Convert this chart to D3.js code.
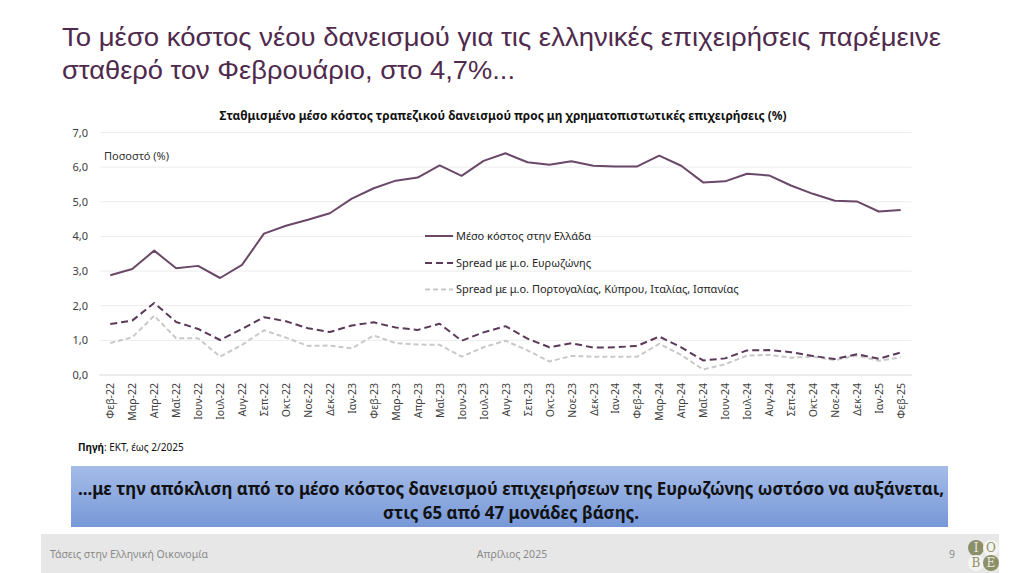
<!DOCTYPE html>
<html>
<head>
<meta charset="utf-8">
<script src="https://cdn.jsdelivr.net/npm/d3@7/dist/d3.min.js"></script>
<style>
  body { margin: 0; background: #fff; }
  svg { display: block; font-family: "Noto Sans", "Open Sans", sans-serif; }
</style>
</head>
<body>
<div id="vis"></div>
<script>
// months Feb-22 .. Feb-25
const months = ["Φεβ-22","Μαρ-22","Απρ-22","Μαΐ-22","Ιουν-22","Ιουλ-22","Αυγ-22","Σεπ-22","Οκτ-22","Νοε-22","Δεκ-22",
  "Ιαν-23","Φεβ-23","Μαρ-23","Απρ-23","Μαΐ-23","Ιουν-23","Ιουλ-23","Αυγ-23","Σεπ-23","Οκτ-23","Νοε-23","Δεκ-23",
  "Ιαν-24","Φεβ-24","Μαρ-24","Απρ-24","Μαΐ-24","Ιουν-24","Ιουλ-24","Αυγ-24","Σεπ-24","Οκτ-24","Νοε-24","Δεκ-24",
  "Ιαν-25","Φεβ-25"];

const costGreece = [2.88,3.06,3.59,3.08,3.15,2.80,3.18,4.08,4.31,4.48,4.67,
  5.09,5.39,5.61,5.70,6.05,5.75,6.18,6.40,6.14,6.07,6.17,6.04,
  6.02,6.02,6.33,6.04,5.56,5.59,5.81,5.76,5.47,5.23,5.03,5.01,
  4.72,4.76];

const spreadEA = [1.47,1.57,2.08,1.53,1.33,1.01,1.33,1.67,1.55,1.35,1.24,
  1.43,1.52,1.37,1.30,1.48,0.99,1.23,1.41,1.05,0.80,0.92,0.79,
  0.80,0.84,1.11,0.80,0.42,0.48,0.71,0.72,0.66,0.55,0.46,0.60,
  0.47,0.65];

const spreadSouth = [0.92,1.09,1.71,1.06,1.06,0.53,0.87,1.29,1.08,0.84,0.85,
  0.77,1.14,0.92,0.88,0.87,0.53,0.80,0.99,0.71,0.39,0.55,0.53,
  0.53,0.53,0.90,0.58,0.16,0.31,0.56,0.58,0.50,0.53,0.43,0.56,
  0.41,0.51];

const yTicks = [0,1,2,3,4,5,6,7];

const series = [
  {name: "Μέσο κόστος στην Ελλάδα", values: costGreece, color: "#6a4868", dash: null, width: 2},
  {name: "Spread με μ.ο. Ευρωζώνης", values: spreadEA, color: "#5b3a59", dash: "7,4", width: 2},
  {name: "Spread με μ.ο. Πορτογαλίας, Κύπρου, Ιταλίας, Ισπανίας", values: spreadSouth, color: "#c9c9c9", dash: "5,3", width: 2}
];

const W = 1024, H = 573;
const svg = d3.select("#vis").append("svg").attr("width", W).attr("height", H);

const defs = svg.append("defs");
const grad = defs.append("linearGradient").attr("id", "boxgrad")
  .attr("x1", 0).attr("y1", 0).attr("x2", 0).attr("y2", 1);
grad.append("stop").attr("offset", "0%").attr("stop-color", "#a5bce9");
grad.append("stop").attr("offset", "100%").attr("stop-color", "#7798d7");

// main title
const titleCol = "#4f2a4d";
svg.append("text").attr("x", 62).attr("y", 46)
  .attr("font-family", "Liberation Sans, Arial, sans-serif")
  .attr("font-size", 26).attr("fill", titleCol)
  .attr("textLength", 879).attr("lengthAdjust", "spacingAndGlyphs")
  .text("Το μέσο κόστος νέου δανεισμού για τις ελληνικές επιχειρήσεις παρέμεινε");
svg.append("text").attr("x", 62).attr("y", 79)
  .attr("font-family", "Liberation Sans, Arial, sans-serif")
  .attr("font-size", 26).attr("fill", titleCol)
  .attr("textLength", 453).attr("lengthAdjust", "spacingAndGlyphs")
  .text("σταθερό τον Φεβρουάριο, στο 4,7%...");

// chart title
svg.append("text").attr("x", 503).attr("y", 120)
  .attr("text-anchor", "middle").attr("font-size", 11.5).attr("font-weight", "bold").attr("fill", "#111")
  .attr("textLength", 567).attr("lengthAdjust", "spacingAndGlyphs")
  .text("Σταθμισμένο μέσο κόστος τραπεζικού δανεισμού προς μη χρηματοπιστωτικές επιχειρήσεις (%)");

const x = d3.scalePoint().domain(months).range([99.3, 911.7]).padding(0.5);
const y = d3.scaleLinear().domain([0, 7]).range([375, 132.5]);

// gridlines
svg.append("g").selectAll("line").data(yTicks).join("line")
  .attr("x1", 99.3).attr("x2", 911.7)
  .attr("y1", d => y(d)).attr("y2", d => y(d))
  .attr("stroke", d => d === 0 ? "#d9d9d9" : "#ececec").attr("stroke-width", 1);

// y axis
const yAxis = svg.append("g").attr("transform", "translate(90,0)")
  .call(d3.axisLeft(y).tickValues(yTicks).tickSize(0).tickPadding(2)
    .tickFormat(d => d3.format(".1f")(d).replace(".", ",")));
yAxis.select(".domain").remove();
yAxis.selectAll("text").attr("font-size", 11).attr("fill", "#404040")
  .attr("font-family", "Noto Sans, sans-serif");

svg.append("text").attr("x", 104).attr("y", 160)
  .attr("font-size", 11).attr("fill", "#333").text("Ποσοστό (%)");

// x axis
const xAxis = svg.append("g").attr("transform", "translate(0,375)")
  .call(d3.axisBottom(x).tickSize(0).tickPadding(0));
xAxis.select(".domain").remove();
xAxis.selectAll("text")
  .attr("font-size", 10.5).attr("fill", "#404040")
  .attr("font-family", "Noto Sans, sans-serif")
  .attr("text-anchor", "end")
  .attr("transform", "rotate(-90)")
  .attr("x", -8).attr("y", 0).attr("dy", "0.35em");

// lines
const line = d3.line().x((d, i) => x(months[i])).y(d => y(d));
series.slice().reverse().forEach(s => {
  svg.append("path").datum(s.values)
    .attr("d", line).attr("fill", "none")
    .attr("stroke", s.color).attr("stroke-width", s.width)
    .attr("stroke-dasharray", s.dash)
    .attr("stroke-linejoin", "round");
});

// legend
const legY = [236, 263, 289.5];
const leg = svg.append("g").selectAll("g").data(series).join("g")
  .attr("transform", (d, i) => `translate(425,${legY[i]})`);
leg.append("line").attr("x1", 0).attr("x2", 28).attr("y1", 0).attr("y2", 0)
  .attr("stroke", d => d.color).attr("stroke-width", 2)
  .attr("stroke-dasharray", d => d.dash);
leg.append("text").attr("x", 31).attr("y", 0).attr("dy", "0.35em")
  .attr("font-size", 11).attr("fill", "#262626").text(d => d.name);

// source
const src = svg.append("text").attr("x", 78).attr("y", 451).attr("font-size", 10).attr("fill", "#111");
src.append("tspan").attr("font-weight", "bold").text("Πηγή");
src.append("tspan").text(": ΕΚΤ, έως 2/2025");

// blue box
svg.append("rect").attr("x", 71).attr("y", 466).attr("width", 877).attr("height", 61)
  .attr("fill", "url(#boxgrad)");
svg.append("text").attr("x", 511).attr("y", 495).attr("text-anchor", "middle")
  .attr("font-size", 17).attr("font-weight", "bold").attr("fill", "#111")
  .attr("textLength", 866).attr("lengthAdjust", "spacingAndGlyphs")
  .text("...με την απόκλιση από το μέσο κόστος δανεισμού επιχειρήσεων της Ευρωζώνης ωστόσο να αυξάνεται,");
svg.append("text").attr("x", 511).attr("y", 519).attr("text-anchor", "middle")
  .attr("font-size", 17).attr("font-weight", "bold").attr("fill", "#111")
  .attr("textLength", 256).attr("lengthAdjust", "spacingAndGlyphs")
  .text("στις 65 από 47 μονάδες βάσης.");

// footer
svg.append("rect").attr("x", 41).attr("y", 534).attr("width", 958).attr("height", 39).attr("fill", "#e7e7e7");
svg.append("text").attr("x", 50).attr("y", 558).attr("font-size", 10.5).attr("fill", "#8a8a8a")
  .text("Τάσεις στην Ελληνική Οικονομία");
svg.append("text").attr("x", 512).attr("y", 558).attr("text-anchor", "middle").attr("font-size", 10.5).attr("fill", "#8a8a8a")
  .text("Απρίλιος 2025");
svg.append("text").attr("x", 952).attr("y", 558).attr("text-anchor", "middle").attr("font-size", 10.5).attr("fill", "#8a8a8a")
  .text("9");

// logo
const logo = [
  {l: "I", cx: 976, cy: 548, fill: "#8c9069", tc: "#e8e8e0"},
  {l: "O", cx: 991, cy: 548, fill: "#f4f4f0", tc: "#8c9069"},
  {l: "B", cx: 976, cy: 563, fill: "#f4f4f0", tc: "#8c9069"},
  {l: "E", cx: 991, cy: 563, fill: "#8c9069", tc: "#e8e8e0"}
];
const lg = svg.append("g").selectAll("g").data(logo).join("g");
lg.append("circle").attr("cx", d => d.cx).attr("cy", d => d.cy).attr("r", 8)
  .attr("fill", d => d.fill);
lg.append("text").attr("x", d => d.cx).attr("y", d => d.cy).attr("dy", "0.36em")
  .attr("text-anchor", "middle").attr("font-family", "DejaVu Serif, serif")
  .attr("font-size", 12).attr("fill", d => d.tc).text(d => d.l);
</script>
</body>
</html>
